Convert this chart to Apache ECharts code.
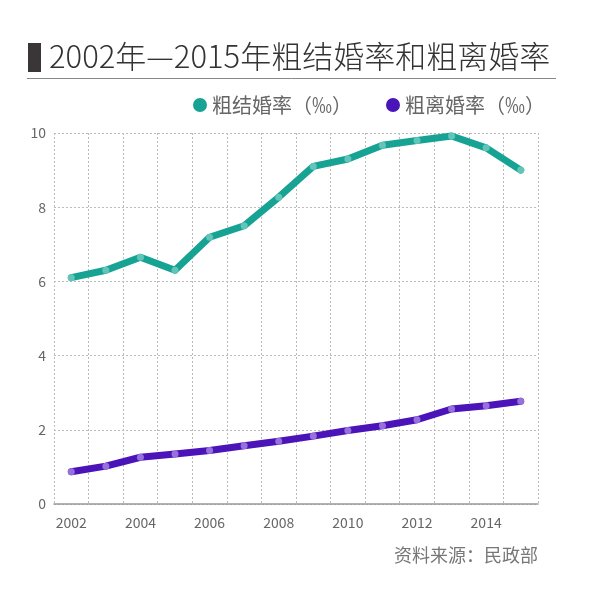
<!DOCTYPE html>
<html>
<head>
<meta charset="utf-8">
<script src="https://cdn.jsdelivr.net/npm/echarts@6/dist/echarts.min.js"></script>
<style>html,body{margin:0;padding:0;background:#fff;}#c{width:600px;height:600px;}</style>
</head>
<body>
<div id="c"></div>
<script>
var years = ['2002','2003','2004','2005','2006','2007','2008','2009','2010','2011','2012','2013','2014','2015'];
var marriageRate = [6.1, 6.3, 6.65, 6.3, 7.19, 7.5, 8.27, 9.1, 9.3, 9.67, 9.8, 9.92, 9.6, 9.0];
var divorceRate = [0.87, 1.02, 1.26, 1.35, 1.44, 1.57, 1.69, 1.83, 1.98, 2.11, 2.27, 2.56, 2.65, 2.77];
var seriesNames = ['粗结婚率（‰）', '粗离婚率（‰）'];
var lineColors = ['#17a394', '#4a14b8'];
var markerColors = ['#62c5b9', '#9670dc'];
var titleText = '2002年—2015年粗结婚率和粗离婚率';
var sourceText = '资料来源：民政部';

var FONT = '"Noto Sans CJK SC", "Noto Sans", sans-serif';
var chart = echarts.init(document.getElementById('c'), null, {renderer: 'canvas'});
chart.setOption({
  backgroundColor: '#fff',
  animation: false,
  title: {
    text: titleText,
    left: 44, top: 36,
    textStyle: {fontFamily: FONT, fontSize: 31, fontWeight: 300, color: '#333'}
  },
  graphic: [
    {type: 'rect', shape: {x: 28, y: 43, width: 13, height: 29}, style: {fill: '#3a3536'}},
    {type: 'line', shape: {x1: 27, y1: 78.5, x2: 556, y2: 78.5}, style: {stroke: '#888', lineWidth: 1}},
    {type: 'text', right: 62, top: 546, style: {text: sourceText, fontFamily: FONT, fontSize: 18, fill: '#777'}}
  ],
  legend: {
    data: seriesNames.map(function (n, i) { return {name: n, itemStyle: {color: lineColors[i]}}; }),
    right: 50, top: 90,
    icon: 'circle', itemWidth: 14, itemHeight: 14, itemGap: 34,
    textStyle: {fontFamily: FONT, fontSize: 20, color: '#666'}
  },
  grid: {left: 54, right: 62, top: 133, bottom: 96, containLabel: false},
  xAxis: {
    type: 'category',
    data: years,
    boundaryGap: true,
    axisLine: {show: true, lineStyle: {color: '#999', width: 1.5}},
    axisTick: {show: false},
    axisLabel: {interval: 1, color: '#666', fontSize: 14, fontFamily: FONT, margin: 12},
    splitLine: {show: true, interval: 0, lineStyle: {color: '#bbb', type: [2, 2], width: 1}}
  },
  yAxis: {
    type: 'value',
    min: 0, max: 10, interval: 2,
    axisLine: {show: false},
    axisTick: {show: false},
    axisLabel: {color: '#666', fontSize: 14, fontFamily: FONT, margin: 8},
    splitLine: {show: true, lineStyle: {color: '#bbb', type: [2, 2], width: 1}}
  },
  series: [
    {
      name: seriesNames[0], type: 'line', data: marriageRate,
      color: lineColors[0],
      lineStyle: {width: 7, color: lineColors[0], cap: 'round', join: 'round'},
      symbol: 'circle', symbolSize: 7,
      itemStyle: {color: markerColors[0]}
    },
    {
      name: seriesNames[1], type: 'line', data: divorceRate,
      color: lineColors[1],
      lineStyle: {width: 7, color: lineColors[1], cap: 'round', join: 'round'},
      symbol: 'circle', symbolSize: 7,
      itemStyle: {color: markerColors[1]}
    }
  ]
});
</script>
</body>
</html>
